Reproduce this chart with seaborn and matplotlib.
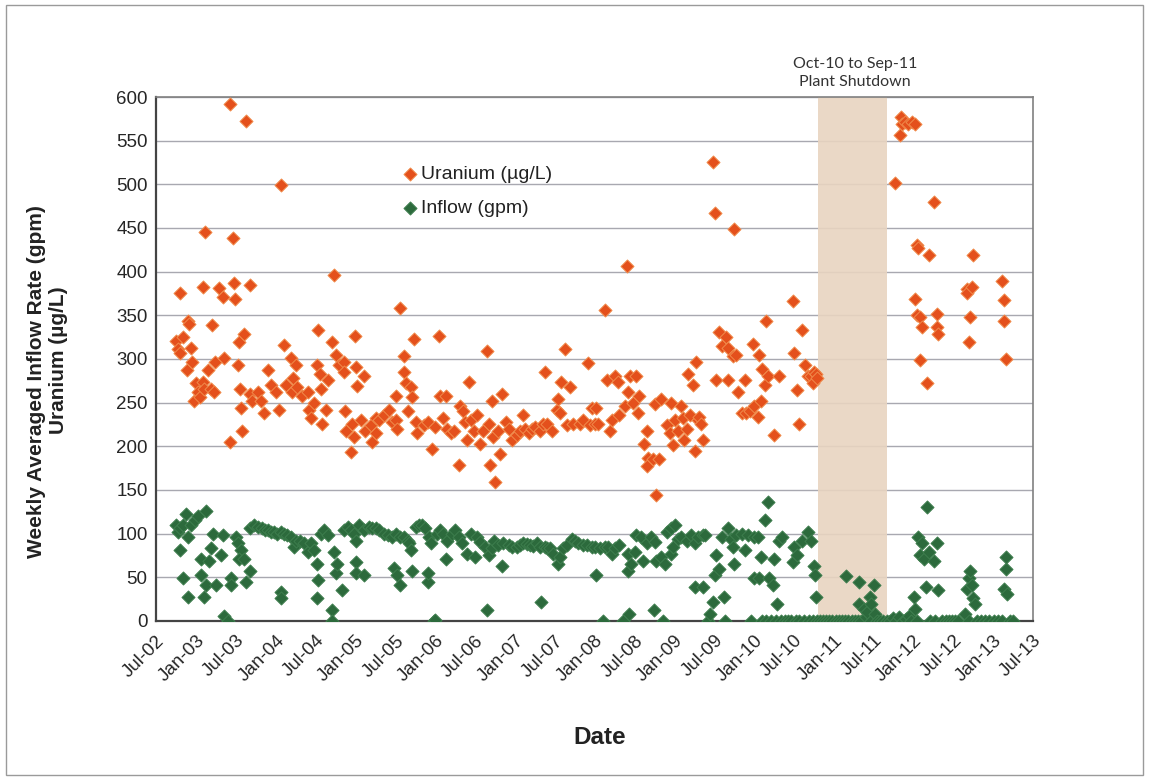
import pandas as pd
import matplotlib
matplotlib.use("Agg")
import matplotlib.pyplot as plt
import matplotlib.dates as mdates
from matplotlib.patches import Rectangle
import seaborn as sns

# Sample times are decimal years.
# Uranium (ug/L) before the shutdown
uranium_pre_t = [
    2002.75, 2002.77, 2002.79, 2002.79, 2002.83, 2002.88, 2002.90, 2002.91, 2002.94, 2002.95,
    2002.97, 2003.00, 2003.02, 2003.05, 2003.08, 2003.08, 2003.10, 2003.11, 2003.15, 2003.19,
    2003.20, 2003.22, 2003.24, 2003.29, 2003.33, 2003.35, 2003.42, 2003.43, 2003.46, 2003.48,
    2003.49, 2003.52, 2003.54, 2003.55, 2003.56, 2003.58, 2003.60, 2003.63, 2003.68, 2003.68,
    2003.70, 2003.77, 2003.81, 2003.85, 2003.90, 2003.94, 2004.00, 2004.04, 2004.06, 2004.10,
    2004.13, 2004.19, 2004.20, 2004.21, 2004.25, 2004.27, 2004.33, 2004.40, 2004.42, 2004.44,
    2004.48, 2004.52, 2004.53, 2004.55, 2004.56, 2004.58, 2004.63, 2004.65, 2004.71, 2004.73,
    2004.76, 2004.79, 2004.85, 2004.86, 2004.87, 2004.88, 2004.94, 2004.96, 2004.98, 2004.99,
    2005.00, 2005.02, 2005.06, 2005.10, 2005.12, 2005.19, 2005.21, 2005.25, 2005.25, 2005.29,
    2005.35, 2005.42, 2005.45, 2005.50, 2005.50, 2005.52, 2005.56, 2005.60, 2005.60, 2005.63,
    2005.65, 2005.69, 2005.70, 2005.73, 2005.75, 2005.77, 2005.85, 2005.90, 2005.96, 2006.00,
    2006.04, 2006.06, 2006.10, 2006.13, 2006.15, 2006.19, 2006.23, 2006.29, 2006.31, 2006.35,
    2006.37, 2006.40, 2006.42, 2006.44, 2006.48, 2006.52, 2006.56, 2006.60, 2006.65, 2006.67,
    2006.69, 2006.71, 2006.72, 2006.75, 2006.79, 2006.81, 2006.83, 2006.88, 2006.92, 2006.96,
    2007.02, 2007.06, 2007.10, 2007.12, 2007.17, 2007.21, 2007.25, 2007.31, 2007.35, 2007.38,
    2007.40, 2007.46, 2007.52, 2007.54, 2007.56, 2007.58, 2007.62, 2007.65, 2007.69, 2007.73,
    2007.81, 2007.85, 2007.92, 2007.94, 2007.96, 2008.00, 2008.02, 2008.04, 2008.13, 2008.15,
    2008.19, 2008.22, 2008.25, 2008.29, 2008.31, 2008.38, 2008.40, 2008.42, 2008.44, 2008.48,
    2008.52, 2008.54, 2008.56, 2008.62, 2008.65, 2008.67, 2008.65, 2008.73, 2008.75, 2008.77,
    2008.81, 2008.83, 2008.90, 2008.94, 2008.96, 2008.98, 2009.00, 2009.04, 2009.08, 2009.10,
    2009.12, 2009.15, 2009.17, 2009.19, 2009.23, 2009.25, 2009.27, 2009.29, 2009.31, 2009.33,
    2009.35, 2009.48, 2009.50, 2009.52, 2009.56, 2009.60, 2009.65, 2009.67, 2009.67, 2009.73,
    2009.75, 2009.77, 2009.79, 2009.85, 2009.88, 2009.90, 2009.94, 2009.98, 2010.00, 2010.04,
    2010.06, 2010.08, 2010.10, 2010.13, 2010.15, 2010.17, 2010.25, 2010.31, 2010.48, 2010.50,
    2010.54, 2010.56, 2010.60, 2010.63, 2010.67, 2010.71, 2010.73, 2010.75, 2010.77, 2010.78,
]
uranium_pre_v = [
    321, 312, 376, 307, 325, 287, 344, 340, 313, 297,
    252, 272, 262, 256, 383, 274, 266, 445, 287, 266,
    339, 262, 296, 381, 371, 301, 205, 592, 439, 387,
    369, 293, 319, 266, 244, 218, 329, 573, 385, 260,
    252, 262, 252, 238, 287, 270, 262, 242, 499, 316,
    270, 301, 262, 278, 293, 268, 258, 262, 242, 232,
    250, 293, 333, 283, 266, 226, 242, 276, 319, 396,
    305, 293, 297, 285, 240, 218, 193, 226, 211, 326,
    291, 269, 230, 281, 218, 224, 205, 232, 215, 230,
    236, 242, 228, 258, 230, 220, 358, 303, 285, 272,
    240, 268, 256, 323, 228, 215, 224, 228, 197, 222,
    326, 258, 232, 258, 220, 215, 218, 179, 246, 240,
    228, 207, 274, 230, 218, 236, 203, 218, 309, 226,
    179, 252, 211, 159, 218, 191, 260, 228, 220, 207,
    213, 218, 236, 220, 215, 220, 222, 218, 226, 285,
    226, 218, 242, 254, 238, 274, 311, 224, 268, 226,
    226, 230, 295, 224, 244, 226, 244, 226, 356, 276,
    218, 230, 280, 274, 236, 246, 407, 262, 280, 250,
    280, 238, 258, 203, 218, 187, 177, 185, 248, 144,
    185, 254, 224, 215, 250, 201, 230, 218, 246, 232,
    207, 220, 283, 236, 270, 195, 297, 230, 234, 226,
    207, 526, 467, 276, 331, 315, 325, 313, 276, 303,
    449, 305, 262, 238, 276, 238, 240, 317, 246, 234,
    305, 252, 289, 270, 344, 281, 213, 281, 366, 307,
    264, 226, 333, 293, 280, 281, 272, 285, 283, 278,
]

# Uranium after the plant restarted
uranium_post_t = [
    2011.77, 2011.83, 2011.84, 2011.85, 2011.89, 2011.93, 2011.98, 2012.02, 2012.02, 2012.04,
    2012.04, 2012.06, 2012.08, 2012.08, 2012.10, 2012.17, 2012.19, 2012.26, 2012.29, 2012.29,
    2012.31, 2012.67, 2012.67, 2012.69, 2012.71, 2012.73, 2012.75, 2013.10, 2013.13, 2013.13,
    2013.15,
]
uranium_post_v = [
    501, 557, 577, 569, 571, 569, 571, 569, 369, 430,
    350, 427, 348, 299, 337, 273, 419, 480, 352, 337,
    329, 380, 375, 319, 348, 383, 419, 389, 367, 344,
    300,
]

# Inflow (gpm) before the shutdown
inflow_pre_t = [
    2002.75, 2002.77, 2002.79, 2002.80, 2002.83, 2002.83, 2002.87, 2002.90, 2002.90, 2002.94,
    2002.98, 2003.02, 2003.06, 2003.06, 2003.10, 2003.12, 2003.12, 2003.16, 2003.18, 2003.21,
    2003.25, 2003.31, 2003.33, 2003.35, 2003.40, 2003.44, 2003.44, 2003.50, 2003.52, 2003.56,
    2003.54, 2003.60, 2003.62, 2003.67, 2003.68, 2003.73, 2003.77, 2003.82, 2003.86, 2003.90,
    2003.94, 2003.98, 2004.02, 2004.06, 2004.06, 2004.07, 2004.10, 2004.14, 2004.19, 2004.23,
    2004.25, 2004.30, 2004.35, 2004.40, 2004.44, 2004.48, 2004.52, 2004.53, 2004.52, 2004.56,
    2004.60, 2004.65, 2004.71, 2004.71, 2004.73, 2004.75, 2004.77, 2004.83, 2004.85, 2004.90,
    2004.94, 2004.98, 2005.00, 2005.00, 2005.00, 2005.04, 2005.10, 2005.10, 2005.17, 2005.21,
    2005.25, 2005.29, 2005.35, 2005.40, 2005.45, 2005.48, 2005.50, 2005.52, 2005.56, 2005.56,
    2005.60, 2005.65, 2005.67, 2005.69, 2005.71, 2005.75, 2005.79, 2005.83, 2005.87, 2005.90,
    2005.90, 2005.92, 2005.94, 2005.98, 2005.99, 2006.02, 2006.06, 2006.10, 2006.13, 2006.15,
    2006.21, 2006.25, 2006.29, 2006.33, 2006.40, 2006.44, 2006.50, 2006.52, 2006.56, 2006.62,
    2006.65, 2006.67, 2006.71, 2006.73, 2006.79, 2006.83, 2006.85, 2006.92, 2006.96, 2007.02,
    2007.06, 2007.10, 2007.15, 2007.19, 2007.23, 2007.27, 2007.31, 2007.33, 2007.37, 2007.40,
    2007.44, 2007.48, 2007.54, 2007.56, 2007.60, 2007.65, 2007.71, 2007.75, 2007.79, 2007.85,
    2007.90, 2007.96, 2008.00, 2008.02, 2008.06, 2008.10, 2008.13, 2008.17, 2008.21, 2008.25,
    2008.31, 2008.36, 2008.42, 2008.42, 2008.43, 2008.46, 2008.50, 2008.52, 2008.58, 2008.60,
    2008.65, 2008.71, 2008.74, 2008.75, 2008.77, 2008.83, 2008.85, 2008.88, 2008.90, 2008.96,
    2008.95, 2008.98, 2009.00, 2009.04, 2009.08, 2009.15, 2009.21, 2009.25, 2009.25, 2009.29,
    2009.35, 2009.35, 2009.38, 2009.42, 2009.44, 2009.48, 2009.50, 2009.52, 2009.56, 2009.60,
    2009.63, 2009.62, 2009.67, 2009.71, 2009.73, 2009.75, 2009.77, 2009.85, 2009.88, 2009.92,
    2009.96, 2010.00, 2010.00, 2010.04, 2010.06, 2010.08, 2010.10, 2010.13, 2010.15, 2010.17,
    2010.19, 2010.21, 2010.23, 2010.25, 2010.27, 2010.29, 2010.31, 2010.33, 2010.35, 2010.38,
    2010.42, 2010.46, 2010.48, 2010.50, 2010.52, 2010.54, 2010.56, 2010.60, 2010.62, 2010.67,
    2010.69, 2010.71, 2010.73, 2010.75, 2010.76, 2010.77, 2010.78,
]
inflow_pre_v = [
    110, 102, 81, 106, 49, 110, 122, 96, 28, 110,
    116, 120, 53, 71, 28, 126, 41, 69, 83, 100,
    41, 75, 98, 6, 0, 49, 41, 96, 89, 81,
    71, 71, 45, 57, 106, 110, 108, 106, 104, 104,
    102, 102, 100, 102, 33, 26, 100, 98, 96, 85,
    92, 92, 89, 79, 89, 81, 65, 47, 26, 100,
    104, 98, 12, 0, 79, 55, 65, 35, 104, 108,
    104, 100, 92, 67, 55, 110, 53, 104, 108, 106,
    106, 104, 100, 98, 96, 61, 100, 53, 41, 96,
    96, 92, 89, 81, 57, 108, 110, 110, 106, 45,
    55, 96, 89, 0, 1, 100, 104, 100, 71, 92,
    100, 104, 96, 89, 77, 100, 73, 96, 90, 85,
    12, 75, 83, 92, 87, 63, 89, 87, 85, 85,
    87, 89, 88, 87, 86, 89, 85, 22, 85, 84,
    83, 77, 65, 73, 83, 87, 94, 92, 89, 87,
    87, 85, 85, 53, 83, 0, 85, 85, 77, 83,
    87, 0, 77, 57, 8, 65, 79, 98, 96, 69,
    89, 96, 12, 91, 69, 73, 0, 65, 102, 106,
    77, 85, 110, 94, 96, 92, 98, 89, 39, 96,
    98, 39, 98, 0, 8, 22, 53, 75, 59, 96,
    0, 28, 106, 94, 85, 65, 98, 100, 81, 98,
    0, 96, 49, 96, 49, 73, 0, 116, 0, 136,
    49, 0, 41, 71, 0, 20, 92, 0, 96, 0,
    0, 0, 67, 85, 0, 75, 0, 92, 0, 102,
    0, 92, 0, 63, 53, 28, 0,
]

# Inflow during the Oct-10 to Sep-11 shutdown
inflow_shut_t = [
    2010.82, 2010.86, 2010.90, 2010.94, 2010.98, 2011.02, 2011.06, 2011.10, 2011.14, 2011.15,
    2011.18, 2011.22, 2011.26, 2011.30, 2011.31, 2011.31, 2011.34, 2011.38, 2011.40, 2011.42,
    2011.45, 2011.47, 2011.46, 2011.50, 2011.52, 2011.54, 2011.58, 2011.62, 2011.66,
]
inflow_shut_v = [
    0, 0, 0, 0, 0, 0, 0, 0, 0, 51,
    0, 0, 0, 0, 45, 20, 0, 14, 5, 10,
    28, 20, 0, 41, 8, 0, 0, 0, 0,
]

# Inflow after the restart
inflow_post_t = [
    2011.70, 2011.74, 2011.78, 2011.82, 2011.86, 2011.90, 2011.94, 2011.96, 2012.00, 2012.02,
    2012.04, 2012.06, 2012.08, 2012.10, 2012.13, 2012.15, 2012.17, 2012.19, 2012.21, 2012.25,
    2012.27, 2012.29, 2012.31, 2012.35, 2012.40, 2012.44, 2012.48, 2012.52, 2012.56, 2012.65,
    2012.67, 2012.69, 2012.70, 2012.71, 2012.73, 2012.75, 2012.77, 2012.79, 2012.85, 2012.90,
    2012.95, 2013.00, 2013.05, 2013.10, 2013.13, 2013.15, 2013.15, 2013.17, 2013.20, 2013.25,
]
inflow_post_v = [
    0, 3, 0, 5, 0, 2, 6, 0, 28, 14,
    0, 96, 75, 89, 71, 39, 130, 79, 0, 69,
    0, 89, 35, 0, 0, 0, 0, 0, 0, 8,
    37, 49, 0, 57, 41, 26, 20, 0, 0, 0,
    0, 0, 0, 0, 37, 59, 73, 31, 0, 0,
]

SHUTDOWN = ("2010-10-20", "2011-09-01")
URANIUM_COLOR = "#E4501C"
INFLOW_COLOR = "#2C6A3C"


def to_date(t):
    year = int(t)
    return pd.Timestamp(year=year, month=1, day=1) + pd.Timedelta(days=(t - year) * 365.25)


def make_frame(times, values):
    return pd.DataFrame({"date": [to_date(t) for t in times], "value": values})


uranium = pd.concat([make_frame(uranium_pre_t, uranium_pre_v),
                     make_frame(uranium_post_t, uranium_post_v)])
inflow = pd.concat([make_frame(inflow_pre_t, inflow_pre_v),
                    make_frame(inflow_shut_t, inflow_shut_v),
                    make_frame(inflow_post_t, inflow_post_v)])

sns.set_theme(style="white")
plt.rcParams["font.family"] = ["Liberation Sans", "DejaVu Sans"]

fig = plt.figure(figsize=(11.49, 7.81), dpi=100)
ax = fig.add_axes([0.1358, 0.2049, 0.7633, 0.6709])

ax.axvspan(pd.Timestamp(SHUTDOWN[0]), pd.Timestamp(SHUTDOWN[1]),
           color="#E8D4C0", alpha=0.9, lw=0, zorder=1)

sns.scatterplot(data=uranium, x="date", y="value", ax=ax, marker="D", s=44,
                color=URANIUM_COLOR, edgecolor="#F08A4A", linewidth=0.7,
                label="Uranium (µg/L)", zorder=3)
sns.scatterplot(data=inflow, x="date", y="value", ax=ax, marker="D", s=44,
                color=INFLOW_COLOR, edgecolor="#3D7D4D", linewidth=0.7,
                label="Inflow (gpm)", zorder=3)

ax.set_xlim(pd.Timestamp("2002-07-01"), pd.Timestamp("2013-07-01"))
ax.set_ylim(0, 600)
ax.set_yticks(range(0, 601, 50))
ax.xaxis.set_major_locator(mdates.MonthLocator(bymonth=[1, 7]))
ax.xaxis.set_major_formatter(mdates.DateFormatter("%b-%y"))
ax.yaxis.grid(True, color="#A8A8B0", lw=1)
ax.set_axisbelow(True)

ax.tick_params(axis="x", direction="out", length=6, width=1.2, color="#444444",
               labelsize=13.5, pad=2)
ax.tick_params(axis="y", direction="out", length=4, width=1.2, color="#444444",
               labelsize=13.5, pad=2)
for lbl in ax.get_xticklabels():
    lbl.set_rotation(45)
    lbl.set_ha("right")
    lbl.set_rotation_mode("anchor")

for side in ["left", "bottom"]:
    ax.spines[side].set_color("#444444")
    ax.spines[side].set_linewidth(1.6)
for side in ["top", "right"]:
    ax.spines[side].set_color("#808080")
    ax.spines[side].set_linewidth(1.2)

ax.set_xlabel("")
ax.set_ylabel("")
fig.text(37 / 1149, 1 - 382 / 781, "Weekly Averaged Inflow Rate (gpm)", rotation=90,
         ha="center", va="center", fontsize=15, fontweight="bold", color="#222222")
fig.text(59 / 1149, 1 - 360 / 781, "Uranium (µg/L)", rotation=90,
         ha="center", va="center", fontsize=15, fontweight="bold", color="#222222")
fig.text(600 / 1149, 1 - 737 / 781, "Date", ha="center", va="center",
         fontsize=17.5, fontweight="bold", color="#222222")

fig.text(855 / 1149, 1 - 73 / 781, "Oct-10 to Sep-11\nPlant Shutdown", ha="center",
         va="center", fontsize=11.5, family=["Lato", "DejaVu Sans"], color="#333333",
         linespacing=1.35)

leg = ax.legend(loc="upper left", bbox_to_anchor=(0.27, 0.885), frameon=False,
                fontsize=14, handletextpad=0.05, handlelength=1.0, labelspacing=0.85,
                borderaxespad=0)
for text in leg.get_texts():
    text.set_color("#222222")

fig.add_artist(Rectangle((0.005, 0.008), 0.99, 0.986, transform=fig.transFigure,
                         fill=False, ec="#9A9A9A", lw=1))

fig.savefig("out.png", dpi=100)
